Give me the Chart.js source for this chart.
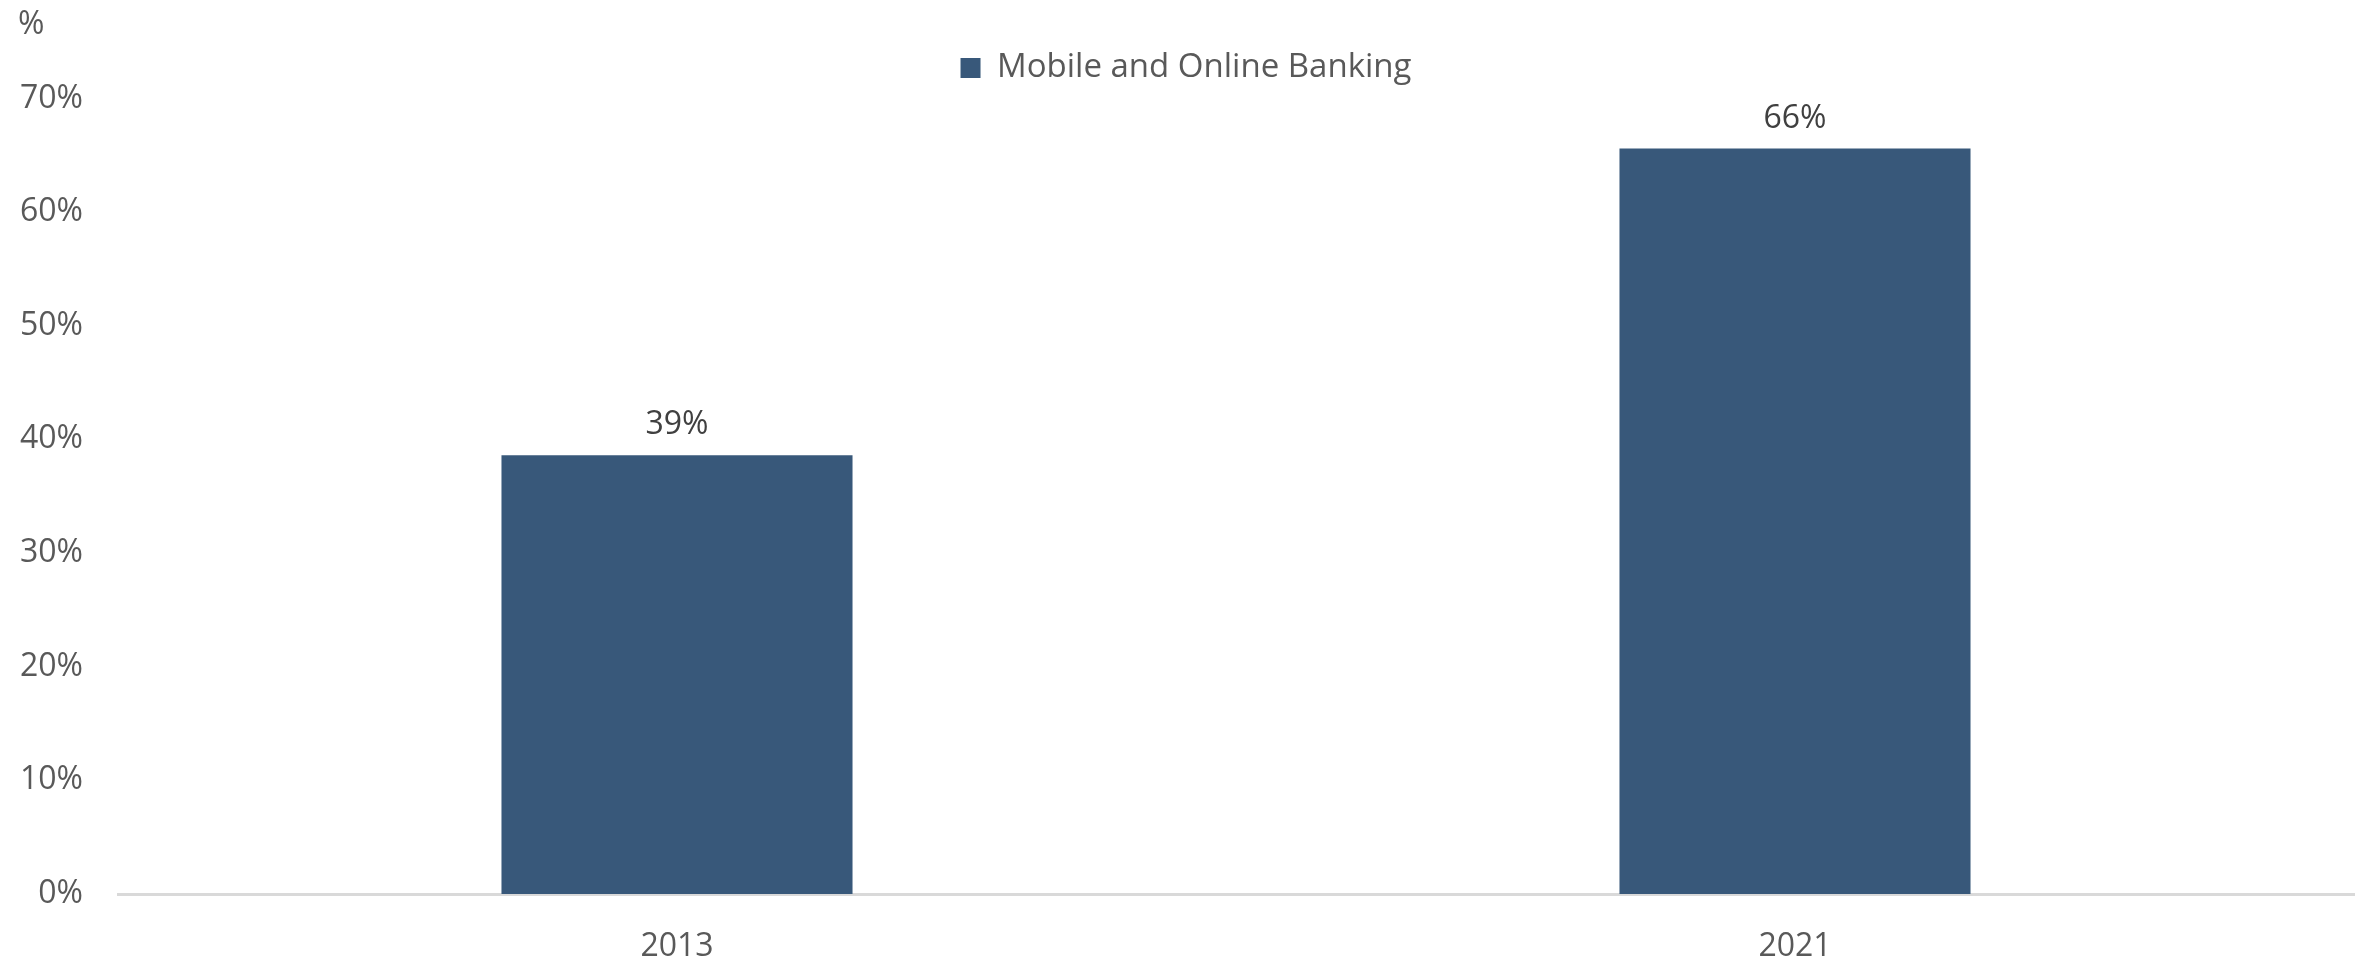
<!DOCTYPE html>
<html>
<head>
<meta charset="utf-8">
<script src="https://cdn.jsdelivr.net/npm/chart.js@4.4.1/dist/chart.umd.min.js"></script>
<style>
  html, body { margin: 0; padding: 0; background: #ffffff; }
  #wrap { width: 2371px; height: 964px; }
</style>
</head>
<body>
<div id="wrap"><canvas id="bankingChart" width="2371" height="964"></canvas></div>
<script>
// Share of people using mobile and online banking, by survey year
const years = ['2013', '2021'];
const bankingShare = [38.6, 65.6];
const seriesName = 'Mobile and Online Banking';
const yTicks = [0, 10, 20, 30, 40, 50, 60, 70];

const FONT = "'Open Sans', 'Noto Sans', sans-serif";
const BAR_COLOR = '#38587A';
const AXIS_TEXT = '#595959';
const LABEL_TEXT = '#404040';

// Value labels above each bar
const barLabels = {
    id: 'barLabels',
    afterDatasetsDraw(chart) {
        const { ctx } = chart;
        const meta = chart.getDatasetMeta(0);
        ctx.save();
        ctx.font = `32px ${FONT}`;
        ctx.fillStyle = LABEL_TEXT;
        ctx.textAlign = 'center';
        ctx.textBaseline = 'middle';
        meta.data.forEach((bar, i) => {
            const value = chart.data.datasets[0].data[i];
            ctx.fillText(Math.round(value) + '%', bar.x, bar.y - 30);
        });
        ctx.restore();
    }
};

// A little extra room under the legend row
const legendGap = {
    id: 'legendGap',
    beforeLayout(chart) {
        const legend = chart.legend;
        if (!legend || legend._gapPatched) return;
        const fit = legend.fit;
        legend.fit = function () {
            fit.call(this);
            this.height += 4;
        };
        legend._gapPatched = true;
    }
};

new Chart(document.getElementById('bankingChart').getContext('2d'), {
    type: 'bar',
    data: {
        labels: years,
        datasets: [{
            label: seriesName,
            data: bankingShare,
            backgroundColor: BAR_COLOR,
            borderWidth: 0,
            barPercentage: 0.314,
            categoryPercentage: 1
        }]
    },
    options: {
        responsive: false,
        animation: false,
        layout: {
            padding: { left: 18, right: 17, top: 0, bottom: 6 }
        },
        plugins: {
            title: {
                display: true,
                text: '%',
                align: 'start',
                color: AXIS_TEXT,
                font: { family: FONT, size: 32, weight: 'normal' },
                padding: { top: 6, bottom: 0 }
            },
            legend: {
                position: 'top',
                labels: {
                    color: AXIS_TEXT,
                    font: { family: FONT, size: 33 },
                    boxWidth: 20,
                    boxHeight: 20,
                    padding: 7
                }
            },
            tooltip: { enabled: false }
        },
        scales: {
            x: {
                afterFit: (scale) => {
                    scale.height = 64;
                },
                grid: { display: false, drawTicks: false },
                border: { color: '#D9D9D9', width: 3 },
                ticks: {
                    color: AXIS_TEXT,
                    font: { family: FONT, size: 32 },
                    padding: 34
                }
            },
            y: {
                min: 0,
                max: 70,
                afterBuildTicks: (scale) => {
                    scale.ticks = yTicks.map(v => ({ value: v }));
                },
                afterFit: (scale) => {
                    scale.width = 100;
                },
                grid: { display: false, drawTicks: false },
                border: { display: false },
                ticks: {
                    color: AXIS_TEXT,
                    font: { family: FONT, size: 32 },
                    padding: 35,
                    callback: (v) => v + '%'
                }
            }
        }
    },
    plugins: [barLabels, legendGap]
});
</script>
</body>
</html>
